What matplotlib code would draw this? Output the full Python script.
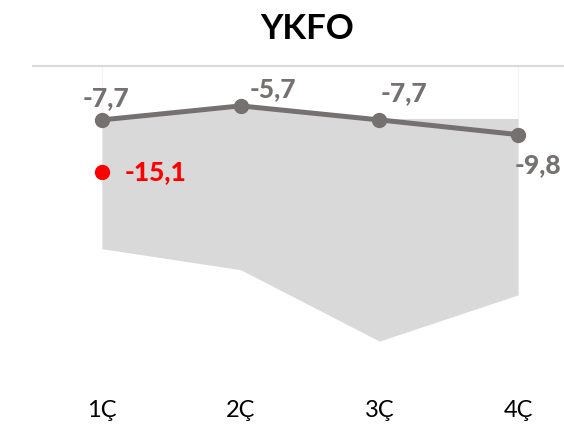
import matplotlib
matplotlib.use("Agg")
import matplotlib.pyplot as plt

# data
quarters = ["1Ç", "2Ç", "3Ç", "4Ç"]
ykfo = [-7.7, -5.7, -7.7, -9.8]
band_top = [-7.7, -6.0, -7.5, -7.5]
band_bottom = [-26.1, -29.1, -39.3, -32.7]
red_value = -15.1

plt.rcParams['font.family'] = ['Lato', 'DejaVu Sans']

W, H = 564, 426
fig = plt.figure(figsize=(W / 100, H / 100), dpi=100)

# axes placed in pixels: left 33, right 564, top 66 (value 0), 7 px per unit
ymin = -45
ax_left, ax_right, ax_top = 33, 564, 66
ax_bottom = ax_top - ymin * 7
ax = fig.add_axes([ax_left / W, 1 - ax_bottom / H,
                   (ax_right - ax_left) / W, (ax_bottom - ax_top) / H])

x = list(range(len(quarters)))
ax.set_xlim(-(102 - 33) / 139, 3 + (564 - 518) / 139)
ax.set_ylim(ymin, 0)

ax.fill_between(x, band_bottom, band_top, color="#d9d9d9", linewidth=0, zorder=1)
ax.vlines([0, 3], [band_top[0], band_top[3]], 0, color="#f5f5f5", lw=1, zorder=0)

gray = "#767171"
ax.plot(x, ykfo, color=gray, lw=3.6, marker="o", markersize=10,
        solid_capstyle="round", zorder=3)
ax.plot([0], [red_value], "o", color="#ff0000", markersize=10, zorder=3)

# data labels
offs = [(4, 22, "center"), (32, 17, "center"), (25, 27, "center"), (-3, -30, "left")]
for xi, v, (dx, dy, ha) in zip(x, ykfo, offs):
    ax.annotate(f"{v:.1f}".replace(".", ","), (xi, v), xytext=(dx, dy),
                textcoords="offset pixels", ha=ha, va="center",
                fontsize=19, fontweight="black", color=gray,
                annotation_clip=False, zorder=4)
ax.annotate(f"{red_value:.1f}".replace(".", ","), (0, red_value), xytext=(23, 0),
            textcoords="offset pixels", ha="left", va="center",
            fontsize=19, fontweight="black", color="#ff0000", zorder=4)

ax.set_xticks(x)
ax.set_xticklabels(quarters, fontsize=17, color="black")
ax.tick_params(axis="x", length=0, pad=14)
ax.set_yticks([])
for s in ["left", "right", "bottom"]:
    ax.spines[s].set_visible(False)
ax.spines["top"].set_color("#d9d9d9")
ax.spines["top"].set_linewidth(1.5)

fig.text(307 / W, 1 - 29 / H, "YKFO", ha="center", va="center",
         fontsize=25, fontweight="bold", color="black")

fig.savefig("out.png", dpi=100)
